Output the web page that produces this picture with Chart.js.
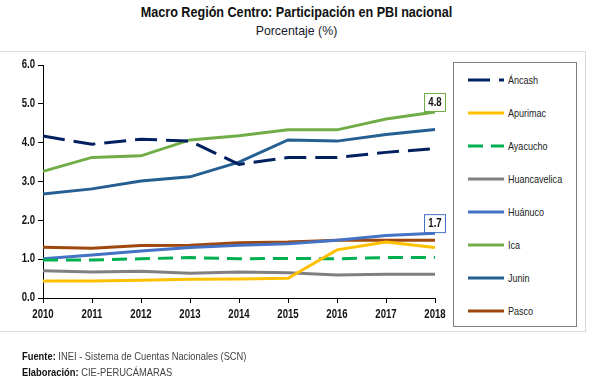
<!DOCTYPE html>
<html lang="es">
<head>
<meta charset="UTF-8">
<title>Macro Región Centro</title>
<script src="https://cdn.jsdelivr.net/npm/chart.js"></script>
<style>
  body { margin: 0; background: #fff; font-family: 'Liberation Sans', Arial, sans-serif; }
  .wrap { position: relative; width: 593px; height: 382px; overflow: hidden; }
  .title { position: absolute; left: 0; width: 593px; text-align: center; top: 4px; font-weight: bold; font-size: 14px; color: #111; transform: scaleX(0.9); }
  .subtitle { position: absolute; left: 0; width: 593px; text-align: center; top: 23px; font-size: 13px; color: #1a1a2e; transform: scaleX(0.95); }
  .frame { position: absolute; left: -2px; top: 51px; width: 586px; height: 279px; border: 1px solid #d9d9d9; }
  canvas { position: absolute; left: 0; top: 0; }
  .legend { position: absolute; left: 453px; top: 62px; width: 122px; height: 263px; border: 1px solid #7f7f7f; background: #fff; }
  .legend .item { position: absolute; left: 14px; height: 14px; display: flex; align-items: center; font-size: 11px; color: #222; }
  .legend .item span { display: inline-block; transform: scaleX(0.82); transform-origin: left center; white-space: nowrap; }
  .legend svg { margin-right: 4px; }
  .foot { position: absolute; left: 22px; font-size: 11px; color: #444; transform: scaleX(0.85); transform-origin: left center; white-space: nowrap; }
  .foot b { color: #111; font-weight: bold; }
</style>
</head>
<body>
<div class="wrap">
  <div class="frame"></div>
  <div class="title">Macro Región Centro: Participación en PBI nacional</div>
  <div class="subtitle">Porcentaje (%)</div>
  <canvas id="chart" width="593" height="382"></canvas>
  <div class="legend" id="legend"></div>
  <div class="foot" style="top:350px"><b>Fuente:</b> INEI - Sistema de Cuentas Nacionales (SCN)</div>
  <div class="foot" style="top:366px"><b>Elaboración:</b> CIE-PERUCÁMARAS</div>
</div>
<script>
// años
const years = ['2010', '2011', '2012', '2013', '2014', '2015', '2016', '2017', '2018'];

// participación en el PBI nacional (%)
const ancash       = [4.17, 3.96, 4.09, 4.04, 3.44, 3.62, 3.62, 3.75, 3.85];
const apurimac     = [0.44, 0.44, 0.46, 0.48, 0.49, 0.51, 1.24, 1.44, 1.30];
const ayacucho     = [0.98, 0.98, 1.01, 1.04, 1.01, 1.02, 1.01, 1.04, 1.04];
const huancavelica = [0.70, 0.67, 0.69, 0.64, 0.67, 0.65, 0.59, 0.61, 0.61];
const huanuco      = [1.01, 1.11, 1.21, 1.30, 1.36, 1.40, 1.49, 1.61, 1.67];
const ica          = [3.26, 3.62, 3.66, 4.07, 4.18, 4.33, 4.33, 4.61, 4.79];
const junin        = [2.68, 2.81, 3.01, 3.12, 3.50, 4.07, 4.04, 4.21, 4.34];
const pasco        = [1.31, 1.28, 1.35, 1.36, 1.42, 1.44, 1.49, 1.49, 1.49];

const yTicks = [0, 1, 2, 3, 4, 5, 6];

const series = [
  { label: 'Áncash', data: ancash, color: '#002060', dash: [22, 9] },
  { label: 'Apurimac', data: apurimac, color: '#FFC000', dash: [] },
  { label: 'Ayacucho', data: ayacucho, color: '#00B050', dash: [15, 8] },
  { label: 'Huancavelica', data: huancavelica, color: '#808080', dash: [] },
  { label: 'Huánuco', data: huanuco, color: '#4472C4', dash: [] },
  { label: 'Ica', data: ica, color: '#70AD47', dash: [] },
  { label: 'Junin', data: junin, color: '#255E91', dash: [] },
  { label: 'Pasco', data: pasco, color: '#9E480E', dash: [] }
];

// etiquetas con recuadro en el último punto (Ica y Huánuco)
const labelled = ['Ica', 'Huánuco'];

const narrowFont = "bold 12px 'Liberation Sans', Arial";

// texto estrecho, como Arial Narrow
function narrowText(ctx, txt, x, y, align) {
  ctx.save();
  ctx.translate(x, y);
  ctx.scale(0.8, 1);
  ctx.font = narrowFont;
  ctx.fillStyle = '#111';
  ctx.textAlign = align;
  ctx.textBaseline = 'middle';
  ctx.fillText(txt, 0, 0);
  ctx.restore();
}

const endLabels = {
  id: 'endLabels',
  afterDatasetsDraw(chart) {
    const ctx = chart.ctx;
    chart.data.datasets.forEach((ds, i) => {
      if (!labelled.includes(ds.label)) return;
      const meta = chart.getDatasetMeta(i);
      const pt = meta.data[meta.data.length - 1];
      const txt = ds.data[ds.data.length - 1].toFixed(1);
      const w = 21, h = 18;
      const x = pt.x - 11, y = pt.y - h - 1;
      ctx.save();
      ctx.fillStyle = '#fff';
      ctx.fillRect(x, y, w, h);
      ctx.strokeStyle = ds.borderColor;
      ctx.lineWidth = 1;
      ctx.strokeRect(x + 0.5, y + 0.5, w, h);
      ctx.restore();
      narrowText(ctx, txt, x + w / 2 + 0.5, y + h / 2 + 1, 'center');
    });
  }
};

// etiquetas de los ejes dibujadas en fuente estrecha
const axisLabels = {
  id: 'axisLabels',
  afterDraw(chart) {
    const ctx = chart.ctx;
    const xs = chart.scales.x, ys = chart.scales.y;
    xs.ticks.forEach((t, i) => {
      narrowText(ctx, years[i], xs.getPixelForTick(i), xs.top + 17, 'center');
    });
    ys.ticks.forEach(t => {
      narrowText(ctx, t.value.toFixed(1), ys.right - 8, ys.getPixelForValue(t.value), 'right');
    });
  }
};

new Chart(document.getElementById('chart'), {
  type: 'line',
  data: {
    labels: years,
    datasets: series.map(s => ({
      label: s.label,
      data: s.data,
      borderColor: s.color,
      backgroundColor: s.color,
      borderDash: s.dash,
      borderWidth: 3,
      pointRadius: 0,
      tension: 0,
      fill: false
    }))
  },
  options: {
    responsive: false,
    animation: false,
    layout: { padding: { top: 65, left: 0, right: 158, bottom: 62 } },
    plugins: { legend: { display: false }, tooltip: { enabled: false } },
    scales: {
      x: {
        grid: { display: true, drawOnChartArea: false, drawTicks: true, tickLength: 5, color: '#000' },
        border: { color: '#000', width: 1 },
        ticks: { display: false },
        afterFit(scale) { scale.height = 22; }
      },
      y: {
        min: 0,
        max: 6,
        afterBuildTicks(scale) { scale.ticks = yTicks.map(v => ({ value: v })); },
        grid: { display: true, drawOnChartArea: false, drawTicks: true, tickLength: 5, color: '#000' },
        border: { color: '#000', width: 1 },
        ticks: { display: false },
        afterFit(scale) { scale.width = 43; }
      }
    }
  },
  plugins: [endLabels, axisLabels]
});

// leyenda
const legend = document.getElementById('legend');
series.forEach((s, i) => {
  const item = document.createElement('div');
  item.className = 'item';
  item.style.top = (10 + i * 33) + 'px';
  const dash = s.dash.length ? `stroke-dasharray="${s.dash.join(' ')}"` : '';
  item.innerHTML = `<svg width="36" height="6"><line x1="0" y1="3" x2="36" y2="3" stroke="${s.color}" stroke-width="3" ${dash}/></svg><span>${s.label}</span>`;
  legend.appendChild(item);
});
</script>
</body>
</html>
